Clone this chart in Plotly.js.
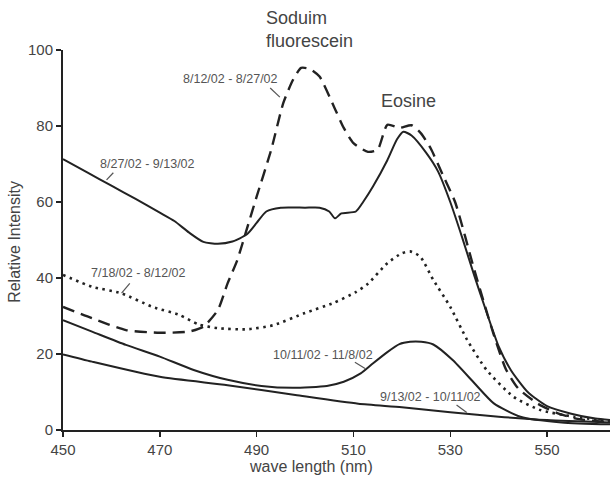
<!DOCTYPE html>
<html>
<head>
<meta charset="utf-8">
<script src="https://cdn.plot.ly/plotly-3.0.1.min.js"></script>
<style>html,body{margin:0;padding:0;background:#fff;}#chart{width:610px;height:481px;}</style>
</head>
<body>
<div id="chart"></div>
<script>
// 8/27/02 - 9/13/02 (solid, top)
const xA = [450,455,460,465,470,473,476,479,482,485,488,490,492,495,500,503,505,506.2,507.5,510.5,512,514,517,519,520.3,522,525,527.5,530,532.5,535,537.5,540,542.5,546,550,555,560,563];
const yA = [71.3,67.8,64.3,60.8,57.2,55,52,49.5,49,49.6,51.5,54.5,57.5,58.5,58.5,58.5,57.5,55.7,57,57.5,60,64,71,76.5,78.5,77.5,73,68,60,50.5,40.5,31,22,15.8,10,6.3,4.3,3,2.6];
// 8/12/02 - 8/27/02 (dashed)
const xB = [450,456,463,470,476,479,482,484,486,488,490,493,495.5,497.5,499.2,501,503,506,508,510,513,515,517,519.5,522,524,526,528.5,531,535,539,541.5,544,548,552,556,563];
const yB = [32.4,29.4,26.3,25.6,25.9,27.2,31.6,38.6,44.7,53,61.4,73.7,86,92.1,95.3,95,93,85,79.5,75.5,73.2,73.8,80.3,79.5,80.2,78,74,67,60,42,25,16,11,7,4.5,3,2];
// 7/18/02 - 8/12/02 (dotted)
const xC = [450,456,462,468.5,474,478,482,488,493.5,500,506,510.5,513,517,520,521.7,523.8,526.5,530,533.5,537.5,543,548.5,555.5,563];
const yC = [40.8,37.7,36,32.4,30.3,27.8,26.8,26.5,27.6,30.8,33.5,36.3,38.5,43.9,46.5,47,45.6,39.5,32.4,23.7,15.8,8.8,5.3,3.5,2.3];
// 10/11/02 - 11/8/02 (solid)
const xD = [450,456,463,470,477,484,491,497.5,504.5,508,511.5,514,517,519.5,521.7,524,526.5,530.5,535,539,544.5,553,563];
const yD = [28.9,25.9,22.4,19.3,15.8,13.2,11.6,11.1,11.6,12.7,14.9,17.5,20.5,22.6,23.2,23.2,22.5,18.4,12.3,7,3.5,2,1.5];
// 9/13/02 - 10/11/02 (solid, bottom)
const xE = [450,456,470,484,498,511,520,530,540,550,563];
const yE = [19.9,18,14,11.8,9.2,6.9,6,4.7,3.5,2.6,2];

const xTicks = [450,470,490,510,530,550];
const yTicks = [0,20,40,60,80,100];

const labelText = ["8/12/02 - 8/27/02","8/27/02 - 9/13/02","7/18/02 - 8/12/02","10/11/02 - 11/8/02","9/13/02 - 10/11/02"];
const labelX = [484.7,467.5,465.6,503.8,525.9];
const labelY = [92.4,70,41.3,19.7,8.8];
const leaderX0 = [492.8,459,462.1,510.3,531.3];
const leaderY0 = [90,65.8,36,17.8,6.6];
const leaderX1 = [494.8,460.4,463.8,512.4,533.4];
const leaderY1 = [87.6,67.7,38.6,16.2,4.6];

const FONT = "Liberation Sans, Arial, sans-serif";
const INK = "#222";

function tr(x, y, dash, w) {
  return {x: x, y: y, type: 'scatter', mode: 'lines',
    line: {color: INK, width: w, dash: dash, shape: 'spline', smoothing: 0.6},
    hoverinfo: 'skip', showlegend: false, cliponaxis: true};
}
const data = [
  tr(xE, yE, 'solid', 2),
  tr(xD, yD, 'solid', 2),
  tr(xC, yC, '2.5px,4.5px', 2.6),
  tr(xB, yB, '12px,7px', 2.4),
  tr(xA, yA, 'solid', 2)
];

const annotations = labelText.map((t, i) => ({
  x: labelX[i], y: labelY[i], xref: 'x', yref: 'y', text: t, showarrow: false,
  font: {family: FONT, size: 12.5, color: '#555'}, xanchor: 'center', yanchor: 'middle'
}));
annotations.push({x: 491.5, y: 1.053, xref: 'x', yref: 'paper', text: 'Soduim<br>fluorescein', showarrow: false,
  align: 'left', xanchor: 'left', yanchor: 'middle', font: {family: FONT, size: 18, color: '#444'}});
annotations.push({x: 521.4, y: 86.6, xref: 'x', yref: 'y', text: 'Eosine', showarrow: false,
  xanchor: 'center', yanchor: 'middle', font: {family: FONT, size: 18, color: '#444'}});
annotations.push({x: 501.3, y: -0.097, xref: 'x', yref: 'paper', text: 'wave length (nm)', showarrow: false,
  xanchor: 'center', yanchor: 'middle', font: {family: FONT, size: 16, color: '#444'}});
annotations.push({x: -0.0878, y: 0.495, xref: 'paper', yref: 'paper', text: 'Relative Intensity', showarrow: false,
  textangle: -90, xanchor: 'center', yanchor: 'middle', font: {family: FONT, size: 16, color: '#444'}});

const shapes = leaderX0.map((x0, i) => ({
  type: 'line', xref: 'x', yref: 'y', x0: x0, y0: leaderY0[i], x1: leaderX1[i], y1: leaderY1[i],
  line: {color: '#555', width: 1.2}
}));

const layout = {
  width: 610, height: 481,
  margin: {l: 63, r: 0, t: 50, b: 51},
  paper_bgcolor: '#fff', plot_bgcolor: '#fff',
  font: {family: FONT, color: '#444'},
  xaxis: {range: [450, 563], tickvals: xTicks, ticktext: xTicks.map(String),
    showgrid: false, zeroline: false, showline: true, linecolor: INK, linewidth: 2,
    ticks: 'outside', ticklen: 5, tickwidth: 1.5, tickcolor: INK,
    tickfont: {family: FONT, size: 15, color: '#444'}},
  yaxis: {range: [0, 100], tickvals: yTicks, ticktext: yTicks.map(String),
    showgrid: false, zeroline: false, showline: true, linecolor: INK, linewidth: 2,
    ticks: 'outside', ticklen: 5, tickwidth: 1.5, tickcolor: INK,
    tickfont: {family: FONT, size: 15, color: '#444'}},
  annotations: annotations,
  shapes: shapes
};

Plotly.newPlot('chart', data, layout, {displayModeBar: false, staticPlot: true});
</script>
</body>
</html>
